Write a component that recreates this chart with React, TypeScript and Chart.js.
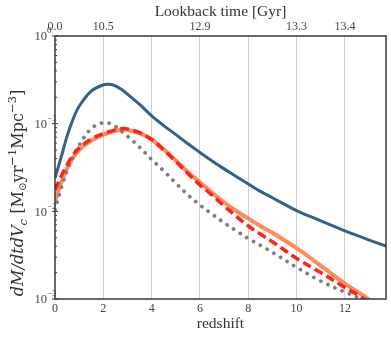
import React, { useEffect, useRef } from "react";
import { Chart, registerables } from "chart.js";

Chart.register(...registerables);

const redshift = [0, 0.25, 0.5, 0.75, 1, 1.5, 2, 2.25, 2.5, 2.8, 3, 3.5, 4, 4.5, 5, 5.5, 6, 6.5, 7, 7.5, 8, 8.5, 9, 10, 11, 12, 12.5, 13, 13.3, 13.7];

const blueSeries = [0.024, 0.041, 0.072, 0.113, 0.158, 0.235, 0.277, 0.281, 0.27, 0.24, 0.217, 0.166, 0.123, 0.095, 0.075, 0.059, 0.047, 0.0375, 0.0305, 0.025, 0.0205, 0.0169, 0.0143, 0.0102, 0.0078, 0.006, 0.0053, 0.0047, 0.0044, 0.004];

const orangeSeries = [0.013, 0.021, 0.031, 0.041, 0.05, 0.064, 0.075, 0.079, 0.083, 0.086, 0.085, 0.078, 0.066, 0.051, 0.038, 0.028, 0.0215, 0.0163, 0.0127, 0.0101, 0.0083, 0.0068, 0.0057, 0.0038, 0.0024, 0.0015, 0.00122, 0.00098, 0.0008, null];

const redSeries = [0.0175, 0.025, 0.034, 0.044, 0.053, 0.067, 0.077, 0.081, 0.085, 0.088, 0.087, 0.079, 0.066, 0.05, 0.037, 0.027, 0.02, 0.0153, 0.0115, 0.0088, 0.0068, 0.0055, 0.0045, 0.0029, 0.002, 0.00135, 0.00113, 0.00092, 0.0008, null];

const graySeries = [0.0104, 0.018, 0.029, 0.042, 0.057, 0.088, 0.103, 0.101, 0.093, 0.08, 0.072, 0.054, 0.039, 0.029, 0.021, 0.0154, 0.0118, 0.0093, 0.0074, 0.006, 0.0049, 0.0041, 0.0034, 0.0023, 0.0016, 0.0012, 0.00105, 0.00085, null, null];

const bottomTicks = [0, 2, 4, 6, 8, 10, 12];
const topTickRedshift = [0, 2, 6, 10, 12];
const topTickLabels = ["0.0", "10.5", "12.9", "13.3", "13.4"];
const yExponents = [0, -1, -2, -3];

const SERIF = "'Liberation Serif', 'DejaVu Serif', serif";
const WIDE_SERIF = "'DejaVu Serif', serif";

function pts(vals: (number | null)[]) {
  return redshift.map((z, i) => ({ x: z, y: vals[i] }));
}

const framePlugin = {
  id: "frameAndLabels",
  afterDatasetsDraw(chart: any) {
    const { ctx, chartArea } = chart;
    const { left, right, top, bottom } = chartArea;
    const yScale = chart.scales.y;
    ctx.save();
    ctx.strokeStyle = "#383838";
    ctx.lineWidth = 1.5;
    ctx.strokeRect(left, top, right - left, bottom - top);
    ctx.lineWidth = 1;
    for (let e = -3; e <= 0; e++) {
      const yp = yScale.getPixelForValue(Math.pow(10, e));
      ctx.beginPath();
      ctx.moveTo(left - 3, yp);
      ctx.lineTo(left + 3, yp);
      ctx.stroke();
      if (e < 0) {
        for (let m = 2; m <= 9; m++) {
          const ym = yScale.getPixelForValue(m * Math.pow(10, e));
          ctx.beginPath();
          ctx.moveTo(left, ym);
          ctx.lineTo(left + 2, ym);
          ctx.stroke();
        }
      }
    }
    ctx.fillStyle = "#444";
    ctx.textBaseline = "middle";
    for (const e of yExponents) {
      const yp = yScale.getPixelForValue(Math.pow(10, e));
      ctx.font = `12.5px ${SERIF}`;
      ctx.textAlign = "right";
      ctx.fillText("10", left - 8, yp + 1);
      ctx.textAlign = "left";
      ctx.font = `9px ${SERIF}`;
      ctx.fillText(e === 0 ? "0" : "\u2212" + Math.abs(e), left - 8, yp - 5);
    }
    const segs: [string, string, number, number][] = [
      ["dM/dtdV", "italic", 14, 0],
      ["c", "italic", 10, 4],
      [" [M", "normal", 14, 0],
      ["\u2299", "normal", 9, 4],
      ["yr", "normal", 14, 0],
      ["\u22121", "normal", 10, -5.5],
      ["Mpc", "normal", 14, 0],
      ["\u22123", "normal", 10, -5.5],
      ["]", "normal", 14, 0],
    ];
    const target = 247;
    let total = 0;
    for (const [t, st, sz] of segs) {
      ctx.font = `${st} ${sz}px ${WIDE_SERIF}`;
      total += ctx.measureText(t).width;
    }
    const k = Math.min(1.15, target / total);
    let w2 = 0;
    const widths: number[] = [];
    for (const [t, st, sz] of segs) {
      ctx.font = `${st} ${sz * k}px ${WIDE_SERIF}`;
      const w = ctx.measureText(t).width;
      widths.push(w);
      w2 += w;
    }
    ctx.translate(19, 193);
    ctx.rotate(-Math.PI / 2);
    ctx.fillStyle = "#333";
    ctx.textAlign = "left";
    ctx.textBaseline = "middle";
    let x = -w2 / 2;
    segs.forEach(([t, st, sz, dy], i) => {
      ctx.font = `${st} ${sz * k}px ${WIDE_SERIF}`;
      ctx.fillText(t, x, dy * k);
      x += widths[i];
    });
    ctx.restore();
  },
};

export default function App() {
  const ref = useRef<HTMLCanvasElement | null>(null);
  useEffect(() => {
    const canvas = ref.current;
    if (!canvas) return;
    const common = { pointRadius: 0, tension: 0.35, clip: 0 };
    const chart = new Chart(canvas, {
      type: "line",
      data: {
        datasets: [
          {
            ...common,
            data: pts(redSeries),
            borderColor: "#ff2418",
            borderWidth: 3.5,
            borderDash: [9, 4.5],
          } as any,
          {
            ...common,
            data: pts(graySeries),
            borderColor: "#7f7f7f",
            borderWidth: 3.8,
            borderDash: [0.01, 7.8],
            borderCapStyle: "round",
          },
          {
            ...common,
            data: pts(orangeSeries),
            borderColor: "#ff8a5c",
            borderWidth: 4,
          },
          {
            ...common,
            data: pts(blueSeries),
            borderColor: "#33618b",
            borderWidth: 3,
          },
        ],
      },
      options: {
        animation: false,
        responsive: true,
        maintainAspectRatio: false,
        layout: { padding: { left: 0, right: 5, top: 0, bottom: 0 } },
        plugins: { legend: { display: false }, tooltip: { enabled: false } },
        scales: {
          x: {
            type: "linear",
            position: "bottom",
            min: 0,
            max: 13.7,
            afterBuildTicks: (s: any) => {
              s.ticks = bottomTicks.map((v) => ({ value: v }));
            },
            afterFit: (s: any) => {
              s.height = 38;
            },
            ticks: {
              includeBounds: false,
              color: "#444",
              font: { family: SERIF, size: 12 },
              padding: 3,
              maxRotation: 0,
              callback: (v: any) => String(v),
            },
            grid: {
              drawTicks: false,
              color: (c: any) => (c.tick && c.tick.value === 0 ? "rgba(0,0,0,0)" : "#cfcfcf"),
              lineWidth: 1,
            },
            border: { display: false },
            title: {
              display: true,
              text: "redshift",
              color: "#333",
              font: { family: SERIF, size: 15.5 },
              padding: { top: 0, bottom: 4 },
            },
          },
          x2: {
            type: "linear",
            position: "top",
            min: 0,
            max: 13.7,
            afterBuildTicks: (s: any) => {
              s.ticks = topTickRedshift.map((v) => ({ value: v }));
            },
            afterFit: (s: any) => {
              s.height = 36;
            },
            ticks: {
              color: "#444",
              font: { family: SERIF, size: 12 },
              padding: 2,
              maxRotation: 0,
              autoSkip: false,
              callback: (_v: any, i: number) => topTickLabels[i],
            },
            grid: { display: false, drawTicks: false },
            border: { display: false },
            title: {
              display: true,
              text: "Lookback time [Gyr]",
              color: "#333",
              font: { family: SERIF, size: 15.5 },
              padding: { top: 3, bottom: 0 },
            },
          },
          y: {
            type: "logarithmic",
            min: 0.001,
            max: 1,
            afterFit: (s: any) => {
              s.width = 55;
            },
            ticks: { display: false },
            grid: { display: false },
            border: { display: false },
          },
        },
      },
      plugins: [framePlugin],
    });
    return () => chart.destroy();
  }, []);
  return (
    <div style={{ position: "fixed", left: 0, top: 0, width: 391, height: 337, background: "#fff" }}>
      <canvas ref={ref} />
    </div>
  );
}
